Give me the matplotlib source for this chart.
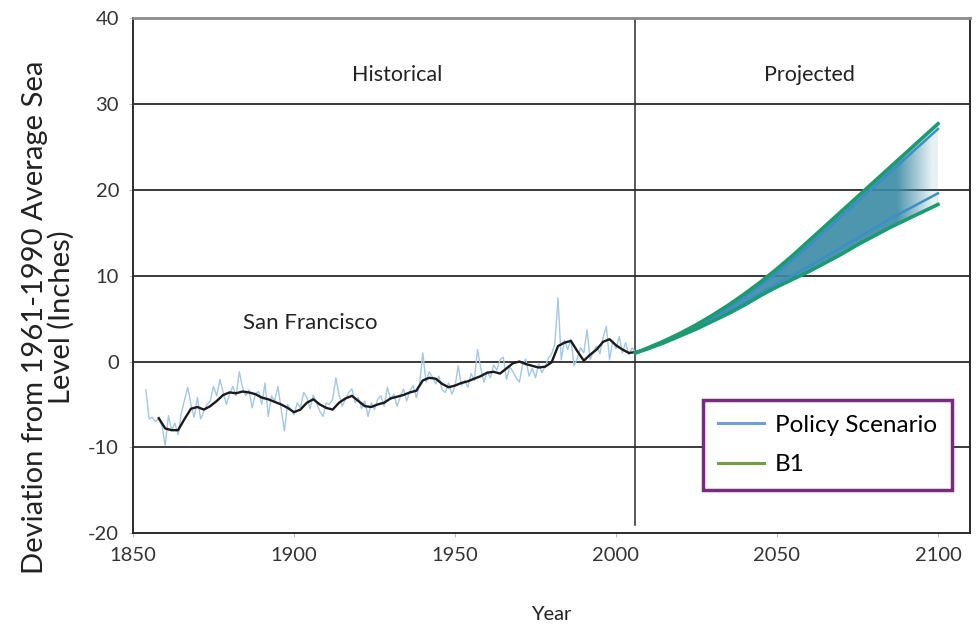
import numpy as np
import matplotlib.pyplot as plt
from matplotlib.lines import Line2D

plt.rcParams['font.family'] = ['Lato', 'DejaVu Sans']
plt.rcParams['axes.unicode_minus'] = False

# annual mean sea level at San Francisco (inches from 1961-1990 mean)
hist_years = np.arange(1854, 2007)
hist_annual = [
    -3.3, -6.7, -6.5, -7.0, -6.7, -7.5, -9.8, -6.3, -8.0, -7.2,
    -8.5, -6.0, -4.5, -3.0, -5.0, -6.5, -4.2, -6.7, -5.8, -5.0,
    -4.6, -2.9, -4.0, -2.1, -3.6, -5.0, -3.8, -2.9, -4.0, -1.2,
    -3.0, -4.0, -3.3, -5.4, -3.8, -3.5, -5.0, -2.5, -6.4, -4.0,
    -4.6, -2.9, -5.5, -8.1, -5.0, -5.6, -6.2, -4.8, -5.4, -3.6,
    -4.2, -5.5, -3.9, -4.8, -5.8, -6.4, -4.8, -5.0, -4.4, -1.9,
    -3.9, -5.2, -4.4, -3.6, -3.2, -4.8, -4.2, -5.5, -4.6, -6.4,
    -4.8, -5.6, -4.4, -4.0, -5.2, -3.0, -4.4, -3.8, -5.2, -4.1,
    -3.2, -4.6, -3.4, -2.8, -4.2, -2.6, 1.0, -2.4, -1.2, -1.8,
    -2.6, -1.7, -3.3, -3.6, -2.5, -3.8, -2.9, -0.5, -2.8, -2.2,
    -3.0, -1.4, -2.2, 1.4, -0.8, -2.4, -1.2, -1.9, -0.4, -1.0,
    0.2, 0.5, -2.1, -0.6, -1.2, -1.9, -2.4, -0.3, 0.3, -1.7,
    -0.8, -1.9, -0.2, -1.3, -0.6, 0.4, 0.9, 2.0, 7.4, 0.2,
    2.5, 1.4, 2.6, -0.5, 0.4, 1.6, 1.0, 3.7, 0.2, 1.2,
    1.8, 0.9, 2.8, 4.1, 0.2, 2.4, 1.5, 2.9, 1.0, 2.2,
    0.8, 1.6, 1.1,
]

# smoothed record
smooth_years = [1858, 1860, 1862, 1864, 1866, 1868, 1870, 1872, 1874, 1876,
                1878, 1880, 1882, 1884, 1886, 1888, 1890, 1892, 1894, 1896,
                1898, 1900, 1902, 1904, 1906, 1908, 1910, 1912, 1914, 1916,
                1918, 1920, 1922, 1924, 1926, 1928, 1930, 1932, 1934, 1936,
                1938, 1940, 1942, 1944, 1946, 1948, 1950, 1952, 1954, 1956,
                1958, 1960, 1962, 1964, 1966, 1968, 1970, 1972, 1974, 1976,
                1978, 1980, 1982, 1984, 1986, 1988, 1990, 1992, 1994, 1996,
                1998, 2000, 2002, 2004, 2006]
smooth_vals = [-6.6, -7.8, -8.0, -8.0, -6.7, -5.5, -5.3, -5.6, -5.2, -4.6,
               -3.9, -3.6, -3.7, -3.5, -3.6, -3.8, -4.2, -4.4, -4.7, -5.0,
               -5.4, -5.9, -5.6, -4.8, -4.4, -5.0, -5.4, -5.6, -4.8, -4.3,
               -4.0, -4.6, -5.2, -5.3, -5.0, -4.8, -4.3, -4.1, -3.9, -3.6,
               -3.4, -2.2, -1.9, -2.0, -2.6, -3.0, -2.8, -2.5, -2.3, -2.0,
               -1.7, -1.3, -1.2, -1.4, -0.8, -0.2, 0.0, -0.3, -0.5, -0.7,
               -0.6, -0.1, 1.8, 2.2, 2.4, 1.2, 0.1, 0.8, 1.4, 2.3,
               2.6, 1.9, 1.4, 1.0, 1.1]

# projections
proj_years = [2006, 2010, 2015, 2020, 2025, 2030, 2035, 2040, 2045, 2050,
              2055, 2060, 2065, 2070, 2075, 2080, 2085, 2090, 2095, 2100]
b1_high = [1.0, 1.6, 2.4, 3.3, 4.3, 5.4, 6.6, 7.9, 9.3, 10.8,
           12.4, 14.1, 15.8, 17.5, 19.2, 20.9, 22.6, 24.3, 26.0, 27.7]
b1_low = [1.0, 1.5, 2.2, 3.0, 3.8, 4.7, 5.6, 6.6, 7.7, 8.7,
          9.6, 10.5, 11.5, 12.5, 13.6, 14.6, 15.6, 16.5, 17.4, 18.3]
policy_high = [1.0, 1.5, 2.3, 3.2, 4.1, 5.1, 6.3, 7.5, 8.9, 10.3,
               11.9, 13.5, 15.2, 16.9, 18.6, 20.3, 22.0, 23.7, 25.4, 27.1]
policy_low = [1.0, 1.5, 2.3, 3.1, 4.0, 4.9, 5.9, 6.9, 8.0, 9.1,
              10.1, 11.1, 12.2, 13.3, 14.4, 15.5, 16.6, 17.6, 18.6, 19.6]

fig = plt.figure(figsize=(9.78, 6.28), dpi=100)
ax = fig.add_axes([0.136, 0.151, 0.856, 0.820])

ax.set_xlim(1850, 2110)
ax.set_ylim(-20, 40)

for yv in [30, 20, 10, 0, -10]:
    ax.axhline(yv, color='#2b2b2b', lw=1.3, zorder=1)
ax.plot([2006, 2006], [-19, 40], color='#2b2b2b', lw=1.1, zorder=1)

# historical record
ax.plot(hist_years, hist_annual, color='#a3c7e4', lw=1.0, zorder=2)
ax.plot(smooth_years, smooth_vals, color='#1b1b1b', lw=1.7, zorder=3)

# projected band, fading out toward 2100
band = ax.fill_between(proj_years, b1_low, b1_high, facecolor='none',
                       edgecolor='none', zorder=2)
xs = np.linspace(2006, 2100, 300)
alpha = np.clip((2100 - xs) / 14.0, 0.12, 0.9)
img = np.zeros((2, len(xs), 4))
img[..., 0] = 0x3a / 255
img[..., 1] = 0x8a / 255
img[..., 2] = 0xa4 / 255
img[..., 3] = alpha
im = ax.imshow(img, extent=[2006, 2100, 0, 29], aspect='auto',
               origin='lower', zorder=2, interpolation='bilinear')
im.set_clip_path(band.get_paths()[0], transform=ax.transData)

ax.plot(proj_years, policy_high, color='#3b8fc9', lw=1.8, zorder=3)
ax.plot(proj_years, policy_low, color='#3b8fc9', lw=1.8, zorder=3)
ax.plot(proj_years, b1_high, color='#1c9a70', lw=2.6, zorder=4)
ax.plot(proj_years, b1_low, color='#1c9a70', lw=2.6, zorder=4)

ax.text(1932, 33.4, 'Historical', ha='center', va='center', fontsize=15.5,
        color='#222222')
ax.text(2060, 33.4, 'Projected', ha='center', va='center', fontsize=15.5,
        color='#222222')
ax.text(1905, 4.5, 'San Francisco', ha='center', va='center', fontsize=16,
        color='#222222')

handles = [Line2D([], [], color='#6f9fd6', lw=2.2),
           Line2D([], [], color='#6e9e4e', lw=2.2)]
leg = ax.legend(handles, ['Policy Scenario', 'B1'], loc='upper left',
                bbox_to_anchor=(0.681, 0.258), fontsize=17.5, frameon=True,
                fancybox=False, handlelength=1.9, handletextpad=0.45,
                borderpad=0.6, labelspacing=0.75, borderaxespad=0)
leg.get_frame().set_edgecolor('#7b2a82')
leg.get_frame().set_linewidth(2.5)
leg.get_frame().set_alpha(1)
leg.set_zorder(6)

ax.set_xticks([1850, 1900, 1950, 2000, 2050, 2100])
ax.set_yticks([-20, -10, 0, 10, 20, 30, 40])
ax.tick_params(labelsize=14.5, labelcolor='#333333', length=3,
               color='#bbbbbb', pad=7)
for side in ['left', 'bottom', 'right']:
    ax.spines[side].set_color('#2b2b2b')
    ax.spines[side].set_linewidth(1.4)
ax.spines['top'].set_color('#8a8a8a')
ax.spines['top'].set_linewidth(2.0)

ax.set_xlabel('Year', fontsize=14.5, color='#222222', labelpad=30)
ax.set_ylabel('Deviation from 1961-1990 Average Sea\nLevel (Inches)',
              fontsize=21, color='#222222', linespacing=1.0)
ax.yaxis.set_label_coords(-0.07, 0.42)

fig.savefig('out.png', dpi=100)
